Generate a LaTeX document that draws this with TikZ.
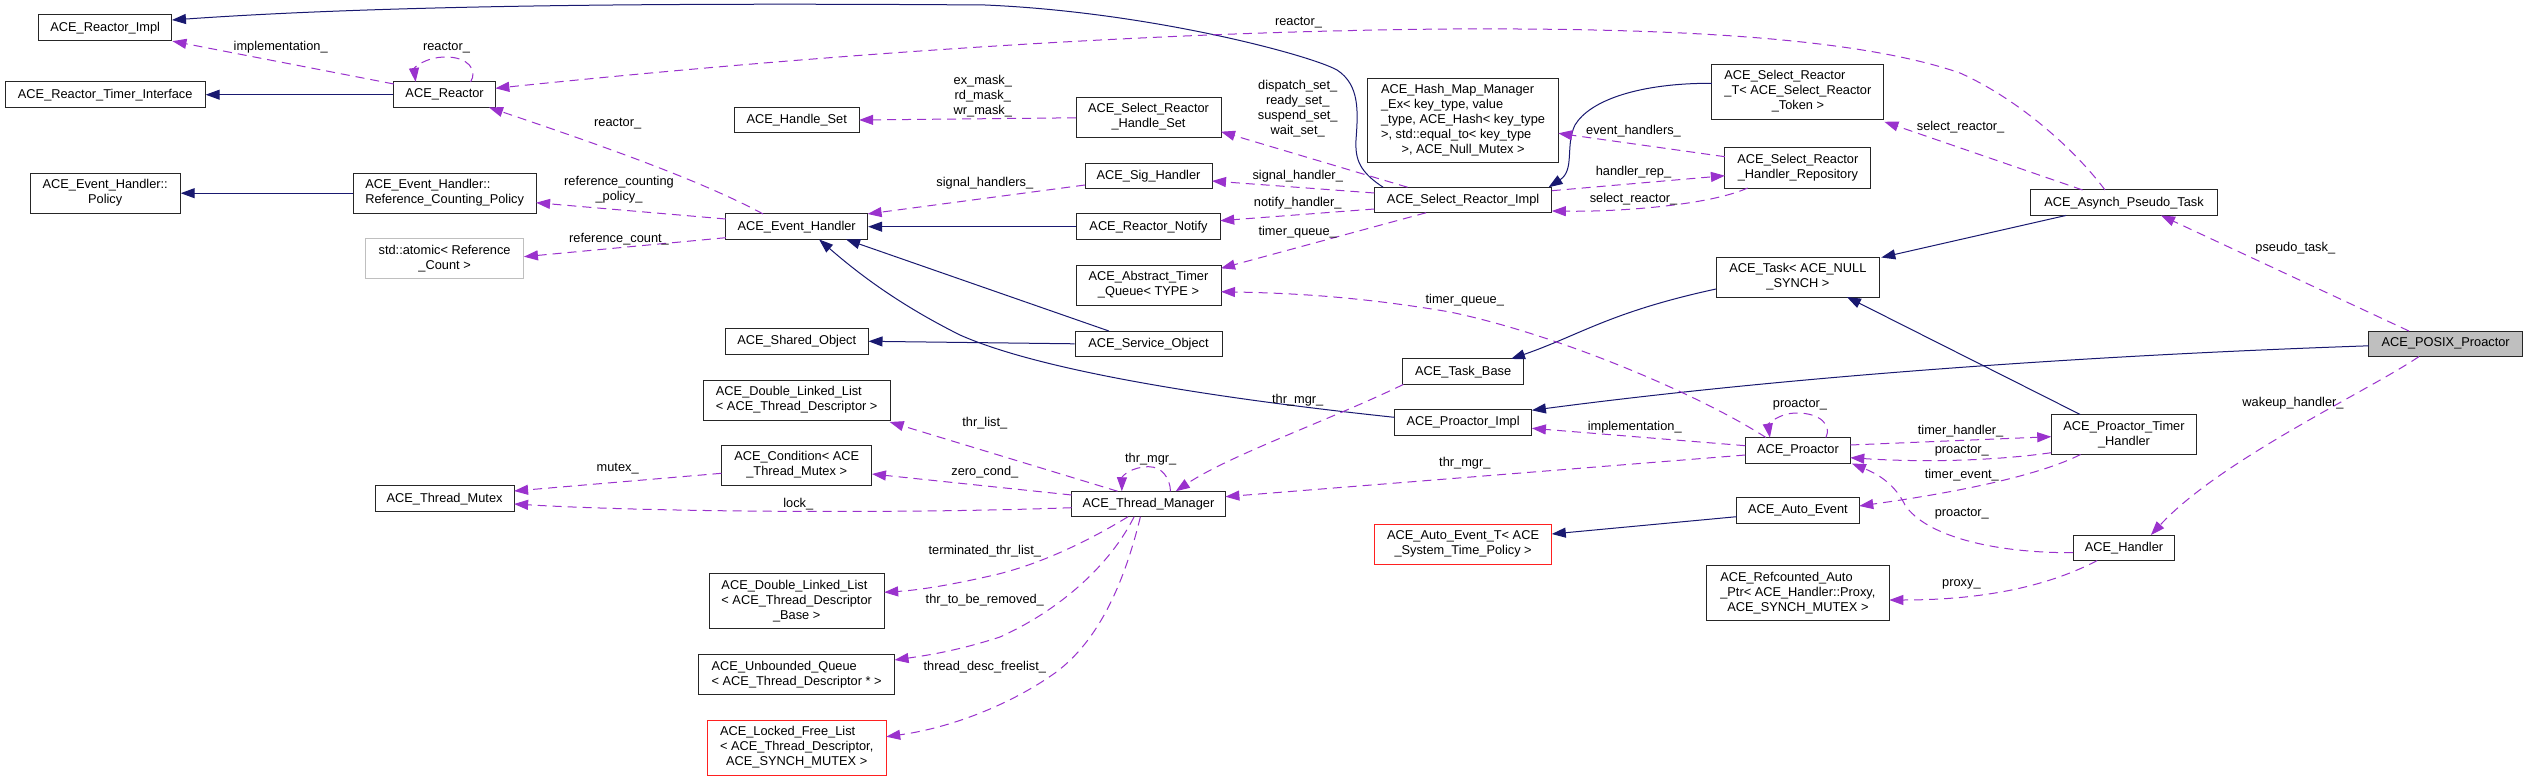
\documentclass[tikz,border=0pt]{standalone}
\usepackage{fontspec}
\newfontfamily\nf{Liberation Sans}
\usetikzlibrary{arrows.meta,calc}
\definecolor{navy}{HTML}{191970}
\definecolor{purp}{HTML}{9A32CD}
\definecolor{gr75}{HTML}{BFBFBF}
\definecolor{redb}{HTML}{FF2020}
\newcommand{\mlt}[2]{\begin{tabular}{@{}l@{}}#1\\\multicolumn{1}{@{}c@{}}{#2}\end{tabular}}
\newcommand{\dfs}{\nf\fontsize{12.8}{15}\selectfont}
\begin{document}
\begin{tikzpicture}[x=1pt,y=-1pt,
  box/.style={draw=black!85, line width=1pt, fill=white, inner sep=0pt, font=\dfs},
  wh/.style 2 args={minimum width=#1pt, minimum height=#2pt},
  inh/.style={navy, line width=1pt, -{Triangle[length=14pt,width=10pt]}},
  use/.style={purp, line width=1pt, dash pattern=on 9pt off 6pt, -{Triangle[length=14pt,width=10pt]}},
  lab/.style={font=\dfs, inner sep=0pt, align=center, text=black}]
\fill[white] (0,0) rectangle (2528,781);
\useasboundingbox (0,0) rectangle (2528,781);

% column 1
\node[box, wh={133.5}{25.7}] (RImpl) at (105.2,27.8) {ACE\_Reactor\_Impl};
\node[box, wh={200}{25.5}] (RTI) at (105.2,94.7) {ACE\_Reactor\_Timer\_Interface};
\node[box, wh={150}{40}] (Policy) at (105.2,193.2) {\mlt{ACE\_Event\_Handler::}{Policy}};
% column 2
\node[box, wh={101.5}{25.5}] (Reactor) at (444.6,94.7) {ACE\_Reactor};
\node[box, wh={183}{40}] (RCP) at (444.6,193.2) {\mlt{ACE\_Event\_Handler::}{Reference\_Counting\_Policy}};
\node[box, draw=gr75, wh={158.7}{40}] (Atomic) at (444.6,258.5) {\mlt{std::atomic< Reference}{\_Count >}};
\node[box, wh={139}{25.5}] (Mutex) at (444.6,498.7) {ACE\_Thread\_Mutex};
% column 3
\node[box, wh={124.8}{25.5}] (HSet) at (796.7,119.8) {ACE\_Handle\_Set};
\node[box, wh={141.8}{25.5}] (EH) at (796.7,226.7) {ACE\_Event\_Handler};
\node[box, wh={142.6}{25.5}] (Shared) at (796.7,341.3) {ACE\_Shared\_Object};
\node[box, wh={187}{40}] (DLL1) at (796.7,400) {\mlt{ACE\_Double\_Linked\_List}{< ACE\_Thread\_Descriptor >}};
\node[box, wh={150.5}{40}] (Cond) at (796.7,465.2) {\mlt{ACE\_Condition< ACE}{\_Thread\_Mutex >}};
\node[box, wh={175}{55}] (DLL2) at (796.7,601.2) {\mlt{ACE\_Double\_Linked\_List\\< ACE\_Thread\_Descriptor}{\_Base >}};
\node[box, wh={195.7}{40}] (UQ) at (796.7,674.7) {\mlt{ACE\_Unbounded\_Queue}{< ACE\_Thread\_Descriptor * >}};
\node[box, draw=redb, wh={179}{55}] (LFL) at (796.7,747.8) {\mlt{ACE\_Locked\_Free\_List\\< ACE\_Thread\_Descriptor,}{ACE\_SYNCH\_MUTEX >}};
% column 4
\node[box, wh={145}{40}] (SRHS) at (1148.5,117.3) {\mlt{ACE\_Select\_Reactor}{\_Handle\_Set}};
\node[box, wh={127}{25.5}] (Sig) at (1148.5,176) {ACE\_Sig\_Handler};
\node[box, wh={143.4}{25.5}] (Notify) at (1148.5,226.7) {ACE\_Reactor\_Notify};
\node[box, wh={145}{40}] (ATQ) at (1148.5,285.3) {\mlt{ACE\_Abstract\_Timer}{\_Queue< TYPE >}};
\node[box, wh={147}{25.5}] (Service) at (1148.5,343.8) {ACE\_Service\_Object};
\node[box, wh={153.8}{25.5}] (TM) at (1148.5,504) {ACE\_Thread\_Manager};
% column 5
\node[box, wh={190.3}{84.3}] (HMM) at (1463.1,120.2) {\mlt{ACE\_Hash\_Map\_Manager\\\_Ex< key\_type, value\\\_type, ACE\_Hash< key\_type\\>, std::equal\_to< key\_type}{>, ACE\_Null\_Mutex >}};
\node[box, wh={177.4}{25.5}] (SRI) at (1463.1,200) {ACE\_Select\_Reactor\_Impl};
\node[box, wh={121}{25.5}] (TaskBase) at (1463.1,371.7) {ACE\_Task\_Base};
\node[box, wh={137.6}{25.5}] (PImpl) at (1463.1,422.3) {ACE\_Proactor\_Impl};
\node[box, draw=redb, wh={177.4}{40}] (AET) at (1463.1,544) {\mlt{ACE\_Auto\_Event\_T< ACE}{\_System\_Time\_Policy >}};
% column 6
\node[box, wh={172}{55}] (SRT) at (1797.9,91.8) {\mlt{ACE\_Select\_Reactor\\\_T< ACE\_Select\_Reactor}{\_Token >}};
\node[box, wh={146}{40}] (SRHR) at (1797.9,168) {\mlt{ACE\_Select\_Reactor}{\_Handler\_Repository}};
\node[box, wh={163.8}{40}] (Task) at (1797.9,277) {\mlt{ACE\_Task< ACE\_NULL}{\_SYNCH >}};
\node[box, wh={105}{25.5}] (Proactor) at (1797.9,450.3) {ACE\_Proactor};
\node[box, wh={122.7}{25.5}] (AutoEvent) at (1797.9,510.3) {ACE\_Auto\_Event};
\node[box, wh={182.8}{55}] (RAP) at (1797.9,593.2) {\mlt{ACE\_Refcounted\_Auto\\\_Ptr< ACE\_Handler::Proxy,}{ACE\_SYNCH\_MUTEX >}};
% column 7
\node[box, wh={187.2}{25.5}] (APT) at (2124,202.7) {ACE\_Asynch\_Pseudo\_Task};
\node[box, wh={145.5}{40}] (PTH) at (2124,434.5) {\mlt{ACE\_Proactor\_Timer}{\_Handler}};
\node[box, wh={101.6}{25.5}] (Handler) at (2124,547.8) {ACE\_Handler};
% column 8
\node[box, fill=gr75, wh={153.8}{25.5}] (POSIX) at (2445.7,343.8) {ACE\_POSIX\_Proactor};

% inheritance
\draw[inh] ($(SRI)+(-80,-12.75)$) .. controls (1360,172) and (1355,160) .. (1356,140) .. controls (1358,112) and (1360,85) .. (1337,70) .. controls (1310,55) and (1150,12) .. (985,5) .. controls (700,3) and (400,4) .. ($(RImpl)+(66.75,-7.8)$);
\draw[inh] (Reactor.west) -- (RTI.east);
\draw[inh] (RCP.west) -- (Policy.east);
\draw[inh] (Notify.west) -- (EH.east);
\draw[inh] ($(Service)+(-39.5,-12.75)$) -- ($(EH)+(49.4,12.75)$);
\draw[inh] ($(PImpl)+(-68.8,-5)$) .. controls (1250,402) and (1050,375) .. (960,335) .. controls (900,305) and (860,275) .. ($(EH)+(22.4,12.75)$);
\draw[inh] (Service.west) -- (Shared.east);
\draw[inh] ($(Task)+(-81.9,12)$) .. controls (1610,312) and (1580,335) .. ($(TaskBase)+(47.9,-12.75)$);
\draw[inh] ($(APT)+(-58,12.75)$) -- ($(Task.north east)+(1,1)$);
\draw[inh] ($(SRT)+(-86,-8.5)$) .. controls (1640,83) and (1590,100) .. (1575,125) .. controls (1565,145) and (1575,170) .. ($(SRI)+(85.5,-12.75)$);
\draw[inh] ($(POSIX)+(-76.9,2)$) .. controls (2100,355) and (1800,375) .. ($(PImpl)+(68.8,-12)$);
\draw[inh] ($(PTH)+(-43.8,-20)$) -- ($(Task)+(49,20)$);
\draw[inh] ($(AutoEvent)+(-61.35,6.4)$) -- ($(AET)+(88.7,-10)$);

% usage
\draw[use] ($(Reactor)+(-50.75,-10.7)$) -- (RImpl.south east);
\draw[use] ($(Reactor)+(26,-12.75)$) .. controls (478,70) and (468,57) .. (446,57) .. controls (425,57) and (414,68) .. ($(Reactor)+(-29,-12.75)$);
\draw[use] ($(APT)+(-19,-12.75)$) .. controls (2075,150) and (2020,100) .. (1960,73) .. controls (1850,35) and (1650,28) .. (1450,29) .. controls (1100,32) and (750,62) .. ($(Reactor)+(50.75,-6.4)$);
\draw[use] ($(EH)+(-33.6,-12.75)$) .. controls (700,180) and (600,145) .. ($(Reactor)+(44.4,12.75)$);
\draw[use] ($(EH)+(-70.9,-7.7)$) -- ($(RCP)+(91.5,9.5)$);
\draw[use] ($(EH)+(-70.9,11)$) -- ($(Atomic)+(79.35,-1.8)$);
\draw[use] ($(SRHS)+(-72.5,0.5)$) -- ($(HSet)+(62.4,0.2)$);
\draw[use] ($(Sig)+(-63.5,9)$) -- ($(EH)+(70.9,-12.75)$);
\draw[use] ($(SRI)+(-55.5,-12.75)$) -- ($(SRHS)+(72.5,14.4)$);
\draw[use] ($(SRI)+(-88.7,-7)$) -- ($(Sig)+(63.5,5)$);
\draw[use] ($(SRI)+(-88.7,9)$) -- ($(Notify)+(71.7,-6)$);
\draw[use] ($(SRI)+(-37,12.75)$) -- ($(ATQ)+(72.5,-17)$);
\draw[use] ($(Proactor)+(-31.9,-12.75)$) .. controls (1700,395) and (1560,335) .. (1450,312) .. controls (1350,295) and (1280,293) .. ($(ATQ)+(72.5,6.4)$);
\draw[use] ($(SRHR)+(-73,-11.3)$) -- ($(HMM)+(95.15,13.1)$);
\draw[use] ($(SRI)+(88.7,-9.3)$) -- ($(SRHR)+(-73,7.7)$);
\draw[use] ($(SRHR)+(-50.2,20)$) .. controls (1710,205) and (1620,212) .. ($(SRI)+(88.7,11)$);
\draw[use] ($(APT)+(-41.5,-12.75)$) -- ($(SRT.south east)+(0,2)$);
\draw[use] ($(POSIX)+(-36.7,-12.75)$) -- ($(APT)+(37,12.75)$);
\draw[use] ($(POSIX)+(-26.7,12.75)$) .. controls (2370,390) and (2220,460) .. ($(Handler)+(26.9,-12.75)$);
\draw[use] ($(Proactor)+(28,-12.75)$) .. controls (1832,425) and (1820,413) .. (1797,413) .. controls (1778,413) and (1768,425) .. ($(Proactor)+(-28,-12.75)$);
\draw[use] ($(Proactor)+(-52.5,-4.6)$) -- ($(PImpl)+(68.8,6)$);
\draw[use] ($(Proactor)+(-52.5,4.7)$) -- ($(TM)+(76.9,-7.3)$);
\draw[use] ($(Proactor)+(52.4,-5.3)$) -- ($(PTH)+(-72.75,2.2)$);
\draw[use] ($(PTH)+(-72.75,18.2)$) .. controls (2000,460) and (1930,463) .. ($(Proactor)+(52.4,7.4)$);
\draw[use] ($(PTH)+(-43.4,20)$) .. controls (2040,475) and (1960,492) .. ($(AutoEvent)+(61.35,-4.3)$);
\draw[use] ($(Handler)+(-50.8,4.9)$) .. controls (1990,553) and (1925,535) .. (1905,505) .. controls (1895,485) and (1880,475) .. ($(Proactor.south east)+(1,0)$);
\draw[use] ($(Handler)+(-26.8,12.75)$) .. controls (2060,580) and (2000,600) .. ($(RAP)+(91.4,6.8)$);
\draw[use] ($(TaskBase)+(-59.7,12.75)$) .. controls (1330,420) and (1230,455) .. ($(TM)+(27.2,-12.75)$);
\draw[use] ($(TM)+(22,-12.75)$) .. controls (1170,478) and (1162,466.7) .. (1148.6,466.7) .. controls (1132,466.7) and (1122,476) .. ($(TM)+(-26.7,-12.75)$);
\draw[use] ($(TM)+(-30.9,-12.75)$) -- ($(DLL1.south east)+(-1,1.5)$);
\draw[use] ($(TM)+(-76.9,-9)$) -- ($(Cond)+(75.25,8.8)$);
\draw[use] ($(TM)+(-76.9,3.7)$) .. controls (900,514) and (650,512) .. ($(Mutex)+(69.5,5.3)$);
\draw[use] ($(Cond)+(-75.25,8.1)$) -- ($(Mutex)+(69.5,-7.7)$);
\draw[use] ($(TM)+(-20.5,12.75)$) .. controls (1090,540) and (1040,565) .. (990,576) .. controls (950,585) and (920,590) .. ($(DLL2)+(87.5,-8.9)$);
\draw[use] ($(TM)+(-14.4,12.75)$) .. controls (1110,565) and (1060,610) .. (1000,637) .. controls (960,650) and (930,655) .. ($(UQ)+(97.85,-14.7)$);
\draw[use] ($(TM)+(-8.1,12.75)$) .. controls (1125,580) and (1100,640) .. (1055,673) .. controls (1010,705) and (950,728) .. ($(LFL)+(89.5,-11.1)$);

% labels
\node[lab] (l1) at (280.7,46.7) {implementation\_};
\node[lab] (l2) at (446.5,48) {reactor\_};
\node[lab] (l3) at (1298.5,22.7) {reactor\_};
\node[lab] (l4) at (617.7,124) {reactor\_};
\node[lab] (l5) at (619,190) {reference\_counting\\\_policy\_};
\node[lab] (l6) at (619,239) {reference\_count\_};
\node[lab] (l7) at (982.8,95.7) {ex\_mask\_\\rd\_mask\_\\wr\_mask\_};
\node[lab] (l8) at (984.8,182.7) {signal\_handlers\_};
\node[lab] (l9) at (1297.7,108.7) {dispatch\_set\_\\ready\_set\_\\suspend\_set\_\\wait\_set\_};
\node[lab] (l10) at (1297.7,175.7) {signal\_handler\_};
\node[lab] (l11) at (1297.7,203.3) {notify\_handler\_};
\node[lab] (l12) at (1297.7,231.7) {timer\_queue\_};
\node[lab] (l13) at (1464.8,300) {timer\_queue\_};
\node[lab] (l14) at (1633.5,131) {event\_handlers\_};
\node[lab] (l15) at (1633.5,171.7) {handler\_rep\_};
\node[lab] (l16) at (1633.5,199.3) {select\_reactor\_};
\node[lab] (l17) at (1960.6,126.7) {select\_reactor\_};
\node[lab] (l18) at (2295.3,248.3) {pseudo\_task\_};
\node[lab] (l19) at (2293,402.7) {wakeup\_handler\_};
\node[lab] (l20) at (1800,405) {proactor\_};
\node[lab] (l21) at (1634.7,426.7) {implementation\_};
\node[lab] (l22) at (1464.8,462.7) {thr\_mgr\_};
\node[lab] (l23) at (1960.6,430.7) {timer\_handler\_};
\node[lab] (l24) at (1961.8,450.7) {proactor\_};
\node[lab] (l25) at (1961.8,475) {timer\_event\_};
\node[lab] (l26) at (1961.8,513.3) {proactor\_};
\node[lab] (l27) at (1961.4,584) {proxy\_};
\node[lab] (l28) at (1297.7,400) {thr\_mgr\_};
\node[lab] (l29) at (1150.7,459) {thr\_mgr\_};
\node[lab] (l30) at (984.8,422.7) {thr\_list\_};
\node[lab] (l31) at (984.8,471.7) {zero\_cond\_};
\node[lab] (l32) at (798.3,504) {lock\_};
\node[lab] (l33) at (617.7,469) {mutex\_};
\node[lab] (l34) at (984.8,550.7) {terminated\_thr\_list\_};
\node[lab] (l35) at (984.8,600) {thr\_to\_be\_removed\_};
\node[lab] (l36) at (984.8,666.7) {thread\_desc\_freelist\_};
\end{tikzpicture}
\end{document}
